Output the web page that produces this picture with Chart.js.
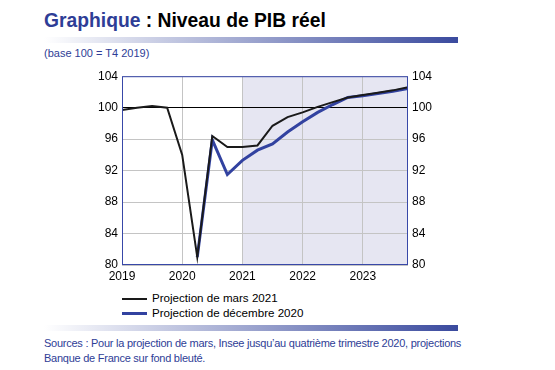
<!DOCTYPE html>
<html>
<head>
<meta charset="utf-8">
<script src="https://cdn.jsdelivr.net/npm/chart.js@4/dist/chart.umd.min.js"></script>
<style>
  body { margin: 0; width: 555px; height: 370px; background: #fff; font-family: "Liberation Sans", Arial, sans-serif; position: relative; overflow: hidden; }
  .abs { position: absolute; }
  #title { left: 44px; top: 10px; font-size: 19.3px; font-weight: bold; color: #000; white-space: nowrap; }
  #title span { color: #2e3d96; }
  .bar { left: 44px; width: 414px; height: 6px; background: linear-gradient(to right, #ffffff, #3a4a9e); }
  #sub { left: 44px; top: 47px; font-size: 11px; color: #2e3d96; }
  #chartBox { left: 80px; top: 65px; width: 370px; height: 220px; }
  .leg { left: 122px; font-size: 11.6px; color: #000; white-space: nowrap; }
  .leg i { display: inline-block; width: 25px; vertical-align: middle; margin-right: 5px; }
  #src { left: 44px; top: 336px; font-size: 11px; line-height: 15px; color: #2e3d96; letter-spacing: -0.25px; white-space: nowrap; }
</style>
</head>
<body>
<div id="title" class="abs"><span>Graphique</span> : Niveau de PIB réel</div>
<div class="abs bar" style="top:37px"></div>
<div id="sub" class="abs">(base 100 = T4 2019)</div>
<div id="chartBox" class="abs"><canvas id="c" width="370" height="220"></canvas></div>
<div class="abs leg" style="top:291px"><i style="border-top:2px solid #1a1a1a"></i>Projection de mars 2021</div>
<div class="abs leg" style="top:306px"><i style="border-top:3px solid #3242a0"></i>Projection de décembre 2020</div>
<div class="abs bar" style="top:325px"></div>
<div id="src" class="abs">Sources : Pour la projection de mars, Insee jusqu’au quatrième trimestre 2020, projections<br>Banque de France sur fond bleuté.</div>
<script>
// quarters, 2019 T1 -> 2023 T4
const quarters = [2019, 2019.25, 2019.5, 2019.75, 2020, 2020.25, 2020.5, 2020.75,
  2021, 2021.25, 2021.5, 2021.75, 2022, 2022.25, 2022.5, 2022.75,
  2023, 2023.25, 2023.5, 2023.75];
const projMars2021 = [99.7, 100.0, 100.2, 100.0, 94.0, 81.0, 96.4, 95.0,
  95.0, 95.2, 97.7, 98.8, 99.4, 100.1, 100.7, 101.3,
  101.6, 101.9, 102.2, 102.6];
const projDec2020 = [null, null, null, null, null, 81.0, 95.9, 91.5,
  93.3, 94.6, 95.4, 96.9, 98.2, 99.4, 100.4, 101.3,
  101.5, 101.8, 102.1, 102.45];
const yTicks = [80, 84, 88, 92, 96, 100, 104];
const xTicks = [2019, 2020, 2021, 2022, 2023];
const shadeFrom = 2021;
const baseLine = 100;

const toPoints = vals => quarters.map((q, i) => ({x: q, y: vals[i]}));

const frame = {
  id: 'frame',
  beforeDraw(chart) {
    const {ctx, chartArea: a, scales} = chart;
    const x0 = scales.x.getPixelForValue(shadeFrom);
    ctx.save();
    ctx.fillStyle = '#e6e6f2';
    ctx.fillRect(x0, a.top, a.right - x0, a.bottom - a.top);
    ctx.restore();
  },
  afterDraw(chart) {
    const {ctx, chartArea: a} = chart;
    ctx.save();
    ctx.strokeStyle = '#3848a8';
    ctx.lineWidth = 1;
    ctx.strokeRect(a.left + 0.5, a.top + 0.5, a.right - a.left - 1, a.bottom - a.top - 1);
    ctx.restore();
  }
};

const font = {family: '"Liberation Sans", Arial, sans-serif', size: 12};
const yScale = (pos) => ({
  type: 'linear', position: pos, min: 80, max: 104,
  afterFit: s => { s.width = 42; },
  afterBuildTicks: s => { s.ticks = yTicks.map(v => ({value: v})); },
  grid: {
    display: pos === 'left', drawTicks: false,
    color: c => c.tick && c.tick.value === baseLine ? '#000' : '#c4c4c4',
    lineWidth: 1
  },
  border: {display: false},
  ticks: {color: '#000', font, padding: 4}
});

new Chart(document.getElementById('c'), {
  type: 'line',
  data: {
    datasets: [
      {label: 'Projection de mars 2021', data: toPoints(projMars2021), borderColor: '#1a1a1a', borderWidth: 2, pointRadius: 0, tension: 0, order: 1},
      {label: 'Projection de décembre 2020', data: toPoints(projDec2020), borderColor: '#3242a0', borderWidth: 3, pointRadius: 0, tension: 0, order: 2}
    ]
  },
  options: {
    responsive: false,
    animation: false,
    layout: {padding: {top: 10, left: 0, right: 0, bottom: 0}},
    plugins: {legend: {display: false}, tooltip: {enabled: false}},
    scales: {
      x: {
        type: 'linear', min: 2019, max: 2023.75,
        afterFit: s => { s.height = 20; },
        afterBuildTicks: s => { s.ticks = xTicks.map(v => ({value: v})); },
        grid: {drawTicks: false, color: '#c4c4c4'},
        border: {display: false},
        ticks: {color: '#000', font, padding: 4, callback: v => String(v)}
      },
      y: yScale('left'),
      y2: yScale('right')
    }
  },
  plugins: [frame]
});
</script>
</body>
</html>
